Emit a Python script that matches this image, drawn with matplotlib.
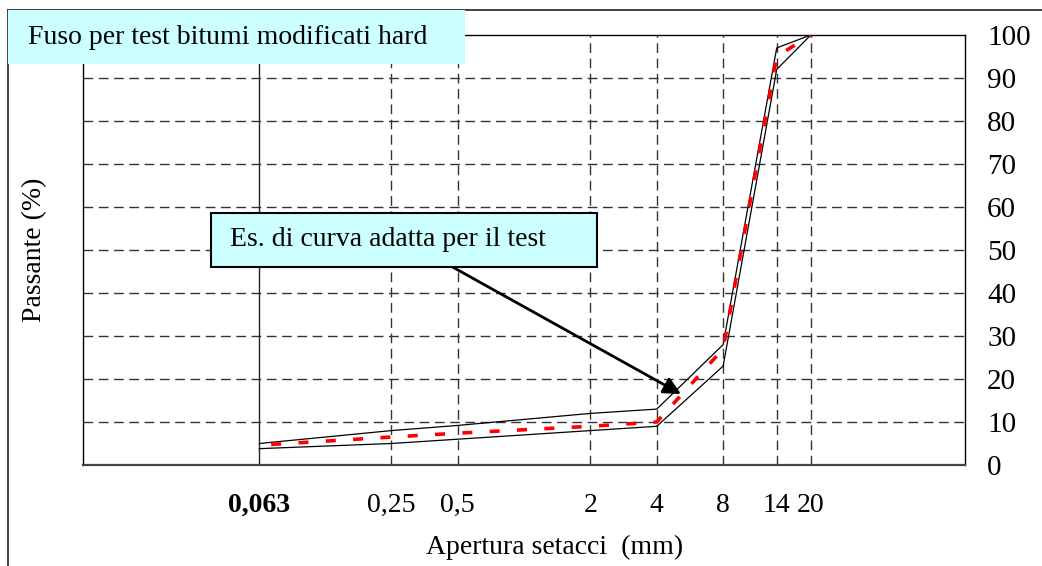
import matplotlib
matplotlib.use("Agg")
import matplotlib.pyplot as plt
from matplotlib.lines import Line2D
from matplotlib.patches import Rectangle

plt.rcParams['font.family'] = ['Liberation Serif', 'DejaVu Serif']
plt.rcParams['lines.scale_dashes'] = False

# data
sieves = [0.063, 0.25, 0.5, 2, 4, 8, 14, 20]
sieve_labels = ["0,063", "0,25", "0,5", "2", "4", "8", "14", "20"]
upper = [5, 8, 9.2, 12, 13, 28, 97, 100]
lower = [3.8, 5, 6, 8, 9, 23, 92, 100]
curve = [4.6, 6.5, 7.4, 9, 10, 27, 95, 100]
yticks = [0, 10, 20, 30, 40, 50, 60, 70, 80, 90, 100]

W, H = 1042, 566
fig = plt.figure(figsize=(W / 100, H / 100), dpi=100)
ax = fig.add_axes([83 / W, 1 - 465 / H, (965 - 83) / W, (465 - 35) / H])

ax.set_xscale('log')
ax.set_xlim(0.01, 100)
ax.set_ylim(0, 100)

# grid
for y in yticks[1:-1]:
    ax.axhline(y, color='#333333', lw=1.0, dashes=(7, 4), zorder=1)
for i, s in enumerate(sieves):
    if i == 0:
        ax.axvline(s, color='#222222', lw=1.0, zorder=1)
    else:
        ax.axvline(s, color='#333333', lw=1.0, dashes=(7, 4), zorder=1)

ax.plot(sieves, upper, color='black', lw=0.9, zorder=3)
ax.plot(sieves, lower, color='black', lw=0.9, zorder=3)
ax.plot(sieves, curve, color='#ff0000', lw=2.6, linestyle=(11.1, (7.2, 12.5)), zorder=4)

ax.set_xticks(sieves)
ax.set_xticklabels(sieve_labels)
ax.xaxis.set_minor_locator(matplotlib.ticker.NullLocator())
ax.set_yticks(yticks)
ax.yaxis.tick_right()
ax.tick_params(axis='y', length=0, pad=16, labelsize=21)
ax.tick_params(axis='x', length=0, pad=20, labelsize=20)
for lab in ax.get_yticklabels():
    lab.set_horizontalalignment('left')
ax.get_xticklabels()[0].set_fontweight('bold')

for sp in ['left', 'right', 'top']:
    ax.spines[sp].set_color('black')
    ax.spines[sp].set_linewidth(1.0)
ax.spines['bottom'].set_color('#444444')
ax.spines['bottom'].set_linewidth(1.6)

ax.set_ylabel("Passante (%)", fontsize=20)
ax.yaxis.set_label_position('left')
ax.yaxis.set_label_coords(-0.041, 0.5)
ax.set_xlabel("Apertura setacci  (mm)", fontsize=20)
ax.xaxis.set_label_coords(0.535, -0.163)

# figure frame
fig.add_artist(Line2D([8 / W, 8 / W], [0, 1 - 10 / H], transform=fig.transFigure,
                      color='#333333', lw=1.3))
fig.add_artist(Line2D([8 / W, 1], [1 - 10 / H, 1 - 10 / H], transform=fig.transFigure,
                      color='#333333', lw=1.3))

# title box
fig.add_artist(Rectangle((8 / W, 1 - 64 / H), (465 - 8) / W, (64 - 10) / H,
                         transform=fig.transFigure, facecolor='#ccffff',
                         edgecolor='none', zorder=5))
fig.text(28 / W, 1 - 38 / H, "Fuso per test bitumi modificati hard", fontsize=20,
         ha='left', va='center', zorder=6)

# annotation box
ax.add_patch(Rectangle((211 / W, 1 - 267 / H), (597 - 211) / W, (267 - 213) / H,
                       transform=fig.transFigure, facecolor='#ccffff',
                       edgecolor='black', lw=1.5, zorder=5, clip_on=False))
arr = ax.annotate("", xy=(5.15, 16.5),
                  xytext=(404 / W, 1 - 240 / H), textcoords='figure fraction',
                  zorder=4.5,
                  arrowprops=dict(arrowstyle='-|>', color='black', lw=2.0,
                                  mutation_scale=26, shrinkA=0, shrinkB=0))
arr.set_annotation_clip(False)
arr.arrow_patch.set_zorder(4.5)
ax.text(230 / W, 1 - 240 / H, "Es. di curva adatta per il test", transform=fig.transFigure,
        fontsize=20, ha='left', va='center', zorder=6, clip_on=False)

fig.savefig("out.png", dpi=100)
